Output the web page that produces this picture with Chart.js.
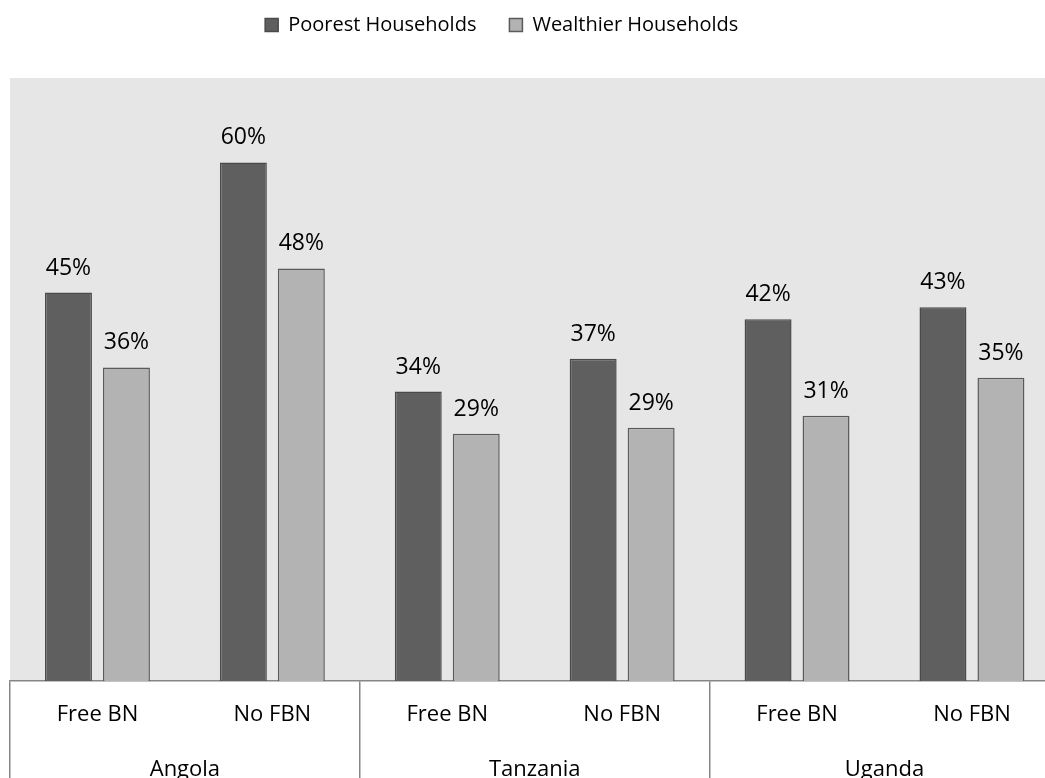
<!DOCTYPE html>
<html>
<head>
<meta charset="utf-8">
<script src="https://cdn.jsdelivr.net/npm/chart.js@4.4.1/dist/chart.umd.min.js"></script>
<style>
  html, body { margin: 0; padding: 0; background: #fff; overflow: hidden; }
  #wrap { position: relative; width: 1070px; height: 781px; }
</style>
</head>
<body>
<div id="wrap"><canvas id="c"></canvas></div>
<script>
// ---- data ----
const subCategories = ['Free BN', 'No FBN', 'Free BN', 'No FBN', 'Free BN', 'No FBN'];
const countries = ['Angola', 'Tanzania', 'Uganda'];
const poorest = [45.1, 60.2, 33.6, 37.4, 42.0, 43.4];
const wealthier = [36.4, 47.9, 28.7, 29.4, 30.8, 35.2];
const seriesNames = ['Poorest Households', 'Wealthier Households'];

const FONT = '"Open Sans", "DejaVu Sans", sans-serif';
const SEP = '#868686';
const LEGEND_PAD = 33;
const LEGEND_CENTER_Y = 25;
const LEGEND_SHIFT_X = -33;

const plotBg = {
  id: 'plotBg',
  beforeDraw(chart) {
    const a = chart.chartArea, ctx = chart.ctx;
    ctx.save();
    ctx.fillStyle = '#e6e6e6';
    ctx.fillRect(a.left, a.top, a.right - a.left, a.bottom - a.top);
    ctx.restore();
  }
};

const legendTweak = {
  id: 'legendTweak',
  beforeInit(chart) {
    const lg = chart.legend;
    const origFit = lg.fit;
    lg.fit = function () {
      origFit.call(this);
      this.height = 78;
    };
    const origDraw = lg.draw;
    lg.draw = function () {
      const ctx = this.ctx;
      const fs = this.options.labels.font.size;
      const shift = LEGEND_PAD + fs / 2 - LEGEND_CENTER_Y;
      ctx.save();
      ctx.translate(LEGEND_SHIFT_X, -shift);
      origDraw.call(this);
      ctx.restore();
    };
  }
};

const valueLabels = {
  id: 'valueLabels',
  afterDatasetsDraw(chart) {
    const ctx = chart.ctx;
    ctx.save();
    ctx.font = '23px ' + FONT;
    ctx.fillStyle = '#000';
    ctx.textAlign = 'center';
    ctx.textBaseline = 'middle';
    chart.data.datasets.forEach((ds, di) => {
      const meta = chart.getDatasetMeta(di);
      meta.data.forEach((bar, i) => {
        ctx.fillText(Math.round(ds.data[i]) + '%', bar.x, bar.y - 24.5);
      });
    });
    ctx.restore();
  }
};

new Chart(document.getElementById('c'), {
  type: 'bar',
  data: {
    labels: subCategories,
    datasets: [
      { label: seriesNames[0], data: poorest, backgroundColor: '#5f5f5f', borderColor: '#4a4a4a', borderWidth: 1.5,
        barPercentage: 0.81, categoryPercentage: 0.663 },
      { label: seriesNames[1], data: wealthier, backgroundColor: '#b3b3b3', borderColor: '#5a5a5a', borderWidth: 1.5,
        barPercentage: 0.81, categoryPercentage: 0.663 }
    ]
  },
  options: {
    responsive: true,
    maintainAspectRatio: false,
    animation: false,
    layout: { padding: { left: 10, right: 10.6, top: 0, bottom: 0 } },
    plugins: {
      legend: {
        position: 'top',
        labels: {
          font: { family: FONT, size: 20 },
          color: '#000',
          boxWidth: 13,
          boxHeight: 13,
          padding: LEGEND_PAD
        }
      },
      tooltip: { enabled: false }
    },
    scales: {
      y: { display: false, min: 0, max: 70 },
      x: {
        type: 'category',
        position: 'bottom',
        weight: 0,
        offset: true,
        grid: {
          display: true,
          offset: true,
          drawOnChartArea: false,
          drawTicks: true,
          tickLength: 139.4,
          lineWidth: 1.5,
          color: (c) => (c.index !== undefined && c.index % 2 === 0) ? SEP : 'rgba(0,0,0,0)'
        },
        border: { display: true, color: SEP, width: 1.5 },
        ticks: {
          mirror: true,
          font: { family: FONT, size: 22 },
          color: '#000',
          padding: -47.2,
          autoSkip: false,
          maxRotation: 0
        }
      },
      x2: {
        type: 'category',
        labels: countries,
        position: 'bottom',
        weight: 1,
        offset: true,
        grid: {
          display: true,
          offset: true,
          drawOnChartArea: false,
          drawTicks: true,
          tickLength: 169.4,
          color: 'rgba(0,0,0,0)'
        },
        border: { display: false },
        ticks: {
          mirror: true,
          font: { family: FONT, size: 22 },
          color: '#000',
          padding: -57.2,
          autoSkip: false,
          maxRotation: 0
        }
      }
    }
  },
  plugins: [plotBg, legendTweak, valueLabels]
});
</script>
</body>
</html>
